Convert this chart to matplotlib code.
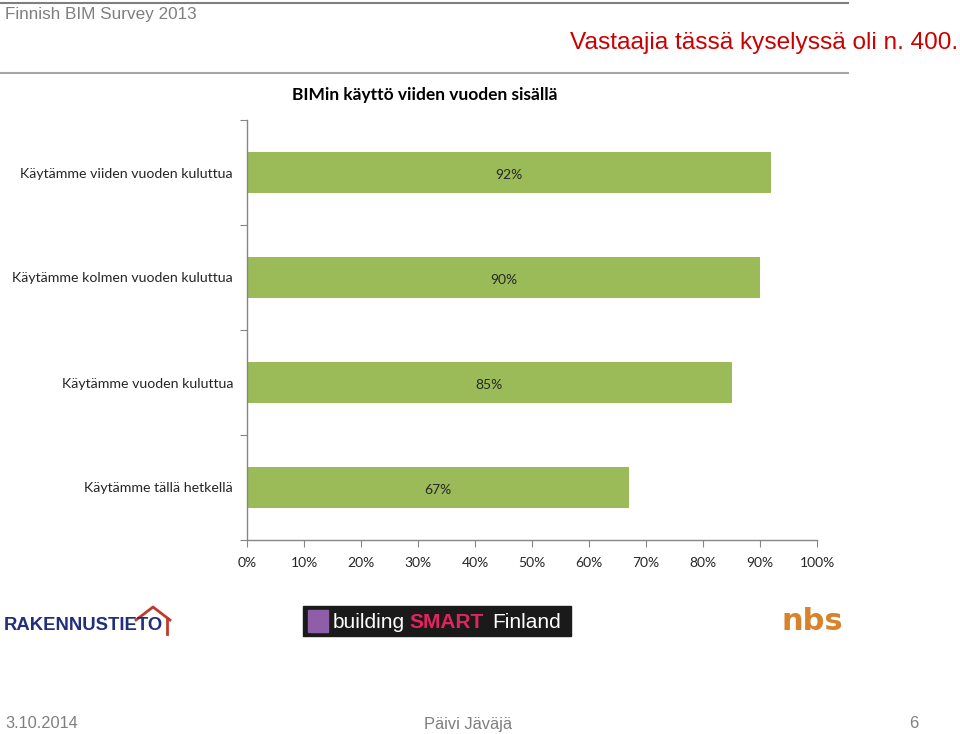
import matplotlib
matplotlib.use("Agg")
import matplotlib.pyplot as plt
from matplotlib.patches import Rectangle
import numpy as np

# ── Data ──────────────────────────────────────────────────────────────
categories = [
    "Käytämme viiden vuoden kuluttua",
    "Käytämme kolmen vuoden kuluttua",
    "Käytämme vuoden kuluttua",
    "Käytämme tällä hetkellä",
]
values = [0.92, 0.90, 0.85, 0.67]
value_labels = ["92%", "90%", "85%", "67%"]
x_ticks = np.arange(0, 1.01, 0.1)
x_tick_labels = [f"{int(round(t * 100))}%" for t in x_ticks]

chart_title = "BIMin käyttö viiden vuoden sisällä"
header_left = "Finnish BIM Survey 2013"
header_right = "Vastaajia tässä kyselyssä oli n. 400."
footer_left = "3.10.2014"
footer_mid = "Päivi Jäväjä"
footer_right = "6"

W, H = 960, 734
BAR_GREEN = "#9BBB59"
AXIS_GRAY = "#868686"
CHART_FONT = ["Lato", "DejaVu Sans"]
SLIDE_FONT = ["Liberation Sans", "DejaVu Sans"]

fig = plt.figure(figsize=(W / 100, H / 100), dpi=100)
fig.patch.set_facecolor("white")


def fx(px):
    return px / W


def fy(py):
    return 1 - py / H


# ── Slide header ──────────────────────────────────────────────────────
fig.add_artist(plt.Line2D([0, fx(848)], [fy(3), fy(3)], color="#7f7f7f", lw=1.5))
fig.add_artist(plt.Line2D([0, fx(848)], [fy(73), fy(73)], color="#a6a6a6", lw=1.5))
fig.text(fx(5), fy(15), header_left, fontsize=12.3, color="#7f7f7f",
         family=SLIDE_FONT, va="center", ha="left")
fig.text(fx(958), fy(43), header_right, fontsize=17.6, color="#cc0000",
         family=SLIDE_FONT, va="center", ha="right")

# ── Chart ─────────────────────────────────────────────────────────────
ax = fig.add_axes([fx(247), fy(540), fx(817) - fx(247), (540 - 120) / H])
n = len(categories)
pos = np.arange(n)
ax.barh(pos, values, height=0.39, color=BAR_GREEN, edgecolor="none")
for p, v, lab in zip(pos, values, value_labels):
    ax.text(v / 2, p + 0.02, lab, ha="center", va="center", fontsize=10,
            color="#262626", family=CHART_FONT)

ax.set_xlim(0, 1)
ax.set_ylim(n - 0.5, -0.5)
ax.set_xticks(x_ticks)
ax.set_xticklabels(x_tick_labels, family=CHART_FONT, fontsize=10, color="#262626")
ax.set_yticks(np.arange(-0.5, n, 1))
ax.set_yticklabels([])
ax.set_yticks(pos, minor=True)
ax.set_yticklabels(categories, minor=True, family=CHART_FONT, fontsize=10.2,
                   color="#262626")
ax.tick_params(axis="y", which="major", length=5, color=AXIS_GRAY)
ax.tick_params(axis="y", which="minor", length=0, pad=10)
ax.tick_params(axis="x", length=5, color=AXIS_GRAY, pad=7)
for s in ("top", "right"):
    ax.spines[s].set_visible(False)
for s in ("left", "bottom"):
    ax.spines[s].set_color(AXIS_GRAY)
    ax.spines[s].set_linewidth(1)

fig.text(fx(425), fy(95), chart_title, ha="center", va="center",
         fontsize=12.5, fontweight="bold", color="black", family=CHART_FONT)

# ── Logos (text approximations) ───────────────────────────────────────
fig.text(fx(4), fy(626), "RAKENNUSTIETO", fontsize=13.3, fontweight="bold",
         color="#1f2f7a", family=SLIDE_FONT, va="center", ha="left")
fig.add_artist(plt.Line2D([fx(136), fx(153), fx(170)],
                          [fy(620), fy(607), fy(620)], color="#c0392b", lw=2))
fig.add_artist(plt.Line2D([fx(167), fx(167)],
                          [fy(618), fy(634)], color="#c0392b", lw=2))
fig.add_artist(Rectangle((fx(303), fy(636)), fx(571) - fx(303), (636 - 606) / H,
                         transform=fig.transFigure, color="#1a1a1a"))
fig.add_artist(Rectangle((fx(308), fy(632)), fx(20), 22 / H,
                         transform=fig.transFigure, color="#8e5fa8"))
fig.text(fx(333), fy(622), "building", fontsize=15, color="white",
         family=SLIDE_FONT, va="center", ha="left")
fig.text(fx(409), fy(622), "SMART", fontsize=15, color="#e0245e",
         family=SLIDE_FONT, va="center", ha="left", fontweight="bold")
fig.text(fx(492), fy(622), "Finland", fontsize=15, color="white",
         family=SLIDE_FONT, va="center", ha="left")
fig.text(fx(812), fy(621), "nbs", fontsize=22, color="#d9822b",
         family="DejaVu Sans", fontweight="bold", va="center", ha="center")

# ── Footer ────────────────────────────────────────────────────────────
fig.text(fx(5), fy(724), footer_left, fontsize=11.8, color="#7f7f7f",
         family=SLIDE_FONT, va="center", ha="left")
fig.text(fx(468), fy(724), footer_mid, fontsize=11.8, color="#7f7f7f",
         family=SLIDE_FONT, va="center", ha="center")
fig.text(fx(918), fy(724), footer_right, fontsize=11.8, color="#7f7f7f",
         family=SLIDE_FONT, va="center", ha="right")

fig.savefig("out.png", dpi=100)
